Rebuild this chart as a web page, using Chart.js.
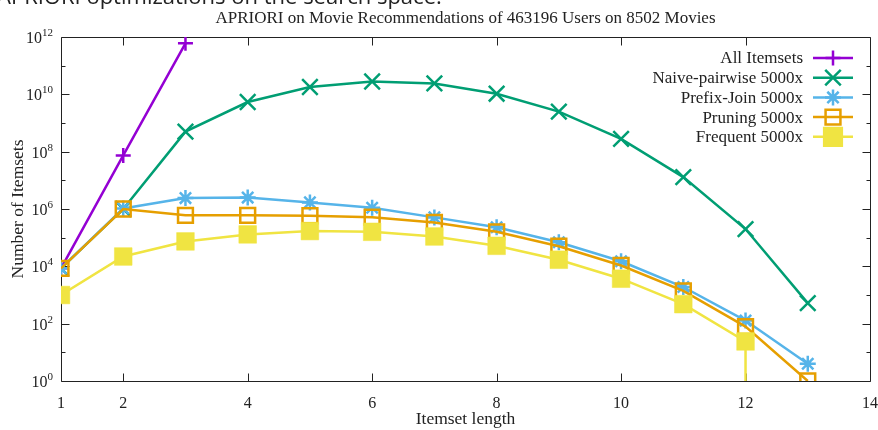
<!DOCTYPE html>
<html>
<head>
<meta charset="utf-8">
<script src="https://cdn.jsdelivr.net/npm/chart.js@4.4.1/dist/chart.umd.min.js"></script>
<style>
  html, body { margin: 0; padding: 0; background: #fff; overflow: hidden; }
  #wrap { position: relative; width: 878px; height: 430px; }
  #wrap canvas { position: absolute; left: 0; top: 0; }
  #caption { position: absolute; left: -3px; top: -20px; font: 22px "Open Sans"; color: #222; white-space: nowrap; }
</style>
</head>
<body>
<div id="wrap">
  <canvas id="chart" width="878" height="430"></canvas>
  <div id="caption">APRIORI optimizations on the search space.</div>
</div>
<script>
// Itemset lengths on the x axis
const itemsetLength = [1, 2, 3, 4, 5, 6, 7, 8, 9, 10, 11, 12, 13];
const xTickValues = [1, 2, 4, 6, 8, 10, 12, 14];
const yTickExponents = [0, 2, 4, 6, 8, 10, 12];

// Number of itemsets per length, one list per method
const allItemsets   = [8502, 7.4e7, 6.0e11];
const naivePairwise = [8502, 1.0e6, 5.0e8, 5.4e9, 1.8e10, 2.8e10, 2.4e10, 1.05e10, 2.5e9, 2.8e8, 1.3e7, 2.0e5, 520];
const prefixJoin    = [8502, 1.05e6, 2.4e6, 2.5e6, 1.7e6, 1.1e6, 5.1e5, 2.3e5, 6.9e4, 1.5e4, 1.9e3, 128, 4];
const pruning       = [8502, 1.0e6, 6.0e5, 6.0e5, 5.8e5, 5.2e5, 3.4e5, 1.6e5, 5.0e4, 1.07e4, 1.4e3, 79, 1];
const frequent      = [1000, 2.2e4, 7.4e4, 1.3e5, 1.7e5, 1.6e5, 1.1e5, 5.2e4, 1.7e4, 3.7e3, 480, 24, 0];

const seriesNames = ['All Itemsets', 'Naive-pairwise 5000x', 'Prefix-Join 5000x', 'Pruning 5000x', 'Frequent 5000x'];
const seriesValues = [allItemsets, naivePairwise, prefixJoin, pruning, frequent];

const Y_MIN = 1, Y_MAX = 1e12;
const SERIF = '"Liberation Serif", "DejaVu Serif", serif';
const INK = '#222';

// A zero count has no place on a log axis: its segment drops straight to the floor.
function toPoints(values) {
  return values.map((v, i) => v > 0
    ? { x: itemsetLength[i], y: v }
    : { x: itemsetLength[i - 1], y: Y_MIN / 1000, drop: true });
}

const styles = [
  { color: '#9400d3', pointStyle: 'cross',    radius: 7.5,  fill: false },
  { color: '#009e73', pointStyle: 'crossRot', radius: 11,   fill: false },
  { color: '#56b4e9', pointStyle: 'star',     radius: 8,    fill: false },
  { color: '#e69f00', pointStyle: 'rect',     radius: 10.5, fill: false },
  { color: '#f0e442', pointStyle: 'rect',     radius: 12.5, fill: true  }
];

const datasets = seriesValues.map((vals, i) => {
  const s = styles[i];
  return {
    label: seriesNames[i],
    data: toPoints(vals),
    borderColor: s.color,
    backgroundColor: s.color,
    borderWidth: 2.5,
    pointStyle: s.pointStyle,
    pointRadius: c => (c.raw && c.raw.drop) ? 0 : s.radius,
    pointHoverRadius: c => (c.raw && c.raw.drop) ? 0 : s.radius,
    pointBorderColor: s.color,
    pointBackgroundColor: s.fill ? s.color : 'rgba(0,0,0,0)',
    pointBorderWidth: s.fill ? 0.5 : 2.5,
    fill: false,
    tension: 0,
    order: seriesValues.length - i
  };
});

// Marker glyph for the key
function drawMarker(ctx, s, x, y) {
  ctx.save();
  ctx.strokeStyle = s.color;
  ctx.fillStyle = s.color;
  ctx.lineWidth = 2.5;
  const r = s.radius;
  ctx.beginPath();
  if (s.pointStyle === 'cross' || s.pointStyle === 'star') {
    ctx.moveTo(x - r, y); ctx.lineTo(x + r, y);
    ctx.moveTo(x, y - r); ctx.lineTo(x, y + r);
  }
  if (s.pointStyle === 'crossRot' || s.pointStyle === 'star') {
    const d = r * Math.SQRT1_2;
    ctx.moveTo(x - d, y - d); ctx.lineTo(x + d, y + d);
    ctx.moveTo(x - d, y + d); ctx.lineTo(x + d, y - d);
  }
  if (s.pointStyle === 'rect') {
    const h = r * Math.SQRT1_2;
    ctx.rect(x - h, y - h, 2 * h, 2 * h);
    if (s.fill) ctx.fill();
  }
  ctx.stroke();
  ctx.restore();
}

// Border, inward tick marks, log labels, title and key
const framePlugin = {
  id: 'frame',
  beforeDatasetsDraw(chart) {
    const { ctx, chartArea: a, scales: { x, y } } = chart;
    ctx.save();
    ctx.strokeStyle = INK;
    ctx.lineWidth = 1;
    const L = Math.round(a.left) + 0.5, R = Math.round(a.right) + 0.5;
    const T = Math.round(a.top) + 0.5, B = Math.round(a.bottom) + 0.5;
    ctx.beginPath();
    ctx.rect(L, T, R - L, B - T);
    xTickValues.forEach(v => {
      const px = Math.round(x.getPixelForValue(v)) + 0.5;
      ctx.moveTo(px, B); ctx.lineTo(px, B - 8);
      ctx.moveTo(px, T); ctx.lineTo(px, T + 8);
    });
    for (let e = 1; e < 12; e++) {
      const py = Math.round(y.getPixelForValue(Math.pow(10, e))) + 0.5;
      const len = e % 2 === 0 ? 8 : 4;
      ctx.moveTo(L, py); ctx.lineTo(L + len, py);
      ctx.moveTo(R, py); ctx.lineTo(R - len, py);
    }
    ctx.stroke();
    ctx.restore();
  },
  afterDraw(chart) {
    const { ctx, chartArea: a, scales: { y } } = chart;
    ctx.save();
    ctx.fillStyle = INK;

    // y labels as powers of ten
    yTickExponents.forEach(e => {
      const py = y.getPixelForValue(Math.pow(10, e));
      const sup = String(e);
      ctx.font = '11px ' + SERIF;
      const ws = ctx.measureText(sup).width;
      const right = a.left - 8;
      ctx.textAlign = 'left';
      ctx.textBaseline = 'alphabetic';
      ctx.fillText(sup, right - ws, py - 1);
      ctx.font = '16px ' + SERIF;
      ctx.textAlign = 'right';
      ctx.fillText('10', right - ws, py + 6);
    });

    // title
    ctx.font = '17px ' + SERIF;
    ctx.textAlign = 'center';
    ctx.textBaseline = 'middle';
    ctx.fillText('APRIORI on Movie Recommendations of 463196 Users on 8502 Movies', (a.left + a.right) / 2, 19);

    // key
    const textRight = a.right - 67, lineL = a.right - 57, lineR = a.right - 17;
    chart.data.datasets.forEach((ds, i) => {
      const ry = 58 + i * 19.7;
      ctx.font = '17px ' + SERIF;
      ctx.textAlign = 'right';
      ctx.textBaseline = 'middle';
      ctx.fillStyle = INK;
      ctx.fillText(ds.label, textRight, ry + 1);
      ctx.strokeStyle = ds.borderColor;
      ctx.lineWidth = 2.5;
      ctx.beginPath();
      ctx.moveTo(lineL, ry); ctx.lineTo(lineR, ry);
      ctx.stroke();
      drawMarker(ctx, styles[i], (lineL + lineR) / 2, ry);
    });
    ctx.restore();
  }
};

new Chart(document.getElementById('chart'), {
  type: 'line',
  data: { datasets },
  options: {
    responsive: false,
    animation: false,
    events: [],
    layout: { autoPadding: false, padding: { top: 37, right: 8, left: 0, bottom: 0 } },
    plugins: { legend: { display: false }, title: { display: false }, tooltip: { enabled: false } },
    scales: {
      x: {
        type: 'linear', min: 1, max: 14, offset: false,
        grid: { display: false, drawTicks: false },
        border: { display: false },
        afterBuildTicks: s => { s.ticks = xTickValues.map(v => ({ value: v })); },
        ticks: { font: { family: SERIF, size: 16 }, color: INK, padding: 13, maxRotation: 0, autoSkip: false },
        title: { display: true, text: 'Itemset length', color: INK, font: { family: SERIF, size: 17.5 }, padding: { top: 0, bottom: 0 } },
        afterFit: s => { s.height = 49; s.paddingLeft = 0; s.paddingRight = 0; }
      },
      y: {
        type: 'logarithmic', min: Y_MIN, max: Y_MAX,
        grid: { display: false, drawTicks: false },
        border: { display: false },
        ticks: { display: false },
        title: { display: true, text: 'Number of Itemsets', color: INK, font: { family: SERIF, size: 17.5 }, padding: { top: 8, bottom: 0 } },
        afterFit: s => { s.width = 61; }
      }
    }
  },
  plugins: [framePlugin]
});
</script>
</body>
</html>
